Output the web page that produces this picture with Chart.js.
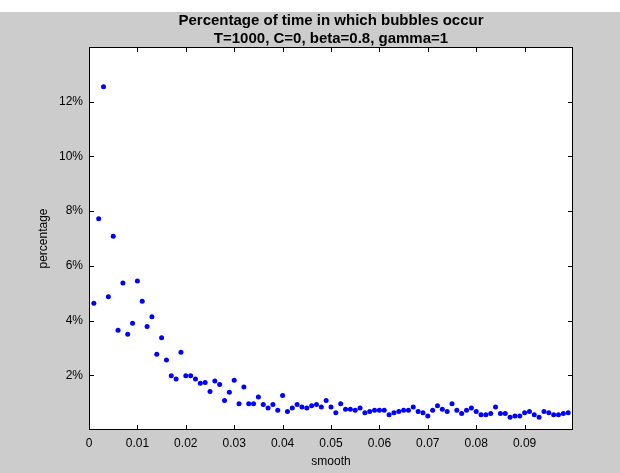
<!DOCTYPE html>
<html>
<head>
<meta charset="utf-8">
<script src="https://cdn.jsdelivr.net/npm/chart.js@4/dist/chart.umd.min.js"></script>
<style>
  html, body { margin: 0; padding: 0; background: #ffffff; }
  #wrap { width: 620px; height: 473px; position: relative; }
</style>
</head>
<body>
<div id="wrap"><canvas id="c" width="620" height="473"></canvas></div>
<script>
// ---- data ----
const titleLines = ["Percentage of time in which bubbles occur", "T=1000, C=0, beta=0.8, gamma=1"];
const xLabel = "smooth";
const yLabel = "percentage";

const smooth = [
  0.001, 0.002, 0.003, 0.004, 0.005, 0.006, 0.007, 0.008, 0.009, 0.010,
  0.011, 0.012, 0.013, 0.014, 0.015, 0.016, 0.017, 0.018, 0.019, 0.020,
  0.021, 0.022, 0.023, 0.024, 0.025, 0.026, 0.027, 0.028, 0.029, 0.030,
  0.031, 0.032, 0.033, 0.034, 0.035, 0.036, 0.037, 0.038, 0.039, 0.040,
  0.041, 0.042, 0.043, 0.044, 0.045, 0.046, 0.047, 0.048, 0.049, 0.050,
  0.051, 0.052, 0.053, 0.054, 0.055, 0.056, 0.057, 0.058, 0.059, 0.060,
  0.061, 0.062, 0.063, 0.064, 0.065, 0.066, 0.067, 0.068, 0.069, 0.070,
  0.071, 0.072, 0.073, 0.074, 0.075, 0.076, 0.077, 0.078, 0.079, 0.080,
  0.081, 0.082, 0.083, 0.084, 0.085, 0.086, 0.087, 0.088, 0.089, 0.090,
  0.091, 0.092, 0.093, 0.094, 0.095, 0.096, 0.097, 0.098, 0.099
];

// percentage of time (fraction)
const percentage = [
  0.0463, 0.0772, 0.1255, 0.0487, 0.0708, 0.0365, 0.0537, 0.0350, 0.0390, 0.0545,
  0.0471, 0.0378, 0.0414, 0.0277, 0.0337, 0.0256, 0.0198, 0.0186, 0.0284, 0.0198,
  0.0198, 0.0186, 0.0171, 0.0174, 0.0141, 0.0179, 0.0166, 0.0108, 0.0138, 0.0182,
  0.0096, 0.0157, 0.0096, 0.0096, 0.0121, 0.0093, 0.0080, 0.0093, 0.0072, 0.0126,
  0.0068, 0.0080, 0.0093, 0.0084, 0.0080, 0.0089, 0.0093, 0.0084, 0.0108, 0.0084,
  0.0063, 0.0096, 0.0076, 0.0076, 0.0072, 0.0080, 0.0063, 0.0068, 0.0072, 0.0072,
  0.0072, 0.0056, 0.0063, 0.0068, 0.0072, 0.0072, 0.0084, 0.0068, 0.0063, 0.0051,
  0.0072, 0.0089, 0.0076, 0.0068, 0.0096, 0.0072, 0.0060, 0.0072, 0.0080, 0.0068,
  0.0056, 0.0056, 0.0060, 0.0084, 0.0060, 0.0060, 0.0047, 0.0051, 0.0051, 0.0063,
  0.0068, 0.0056, 0.0047, 0.0068, 0.0063, 0.0056, 0.0056, 0.0060, 0.0063
];

const xTickLabels = ["0", "0.01", "0.02", "0.03", "0.04", "0.05", "0.06", "0.07", "0.08", "0.09"];
const yTickLabels = ["2%", "4%", "6%", "8%", "10%", "12%"];

// ---- styling ----
const FIG_BG = "#cccccc";
const FONT = "'Liberation Sans', Arial, Helvetica, sans-serif";

const points = smooth.map((x, i) => ({ x: x, y: percentage[i] }));

const matlabFrame = {
  id: "matlabFrame",
  afterLayout(chart) {
    // center the title over the plot box, like MATLAB does
    const tb = chart.titleBlock;
    if (tb) {
      tb.left = chart.chartArea.left;
      tb.right = chart.chartArea.right;
      tb.width = tb.right - tb.left;
    }
  },
  beforeDraw(chart) {
    const { ctx, chartArea: a, width, height } = chart;
    ctx.save();
    ctx.fillStyle = "#ffffff";
    ctx.fillRect(0, 0, width, height);
    ctx.fillStyle = FIG_BG;
    ctx.fillRect(0, 12, width, height - 12);
    ctx.fillStyle = "#ffffff";
    ctx.fillRect(a.left, a.top, a.right - a.left, a.bottom - a.top);
    ctx.restore();
  },
  afterDraw(chart) {
    const { ctx, chartArea: a } = chart;
    const xs = chart.scales.x, ys = chart.scales.y;
    const L = 5;
    ctx.save();
    ctx.strokeStyle = "#000000";
    ctx.lineWidth = 1;
    ctx.beginPath();
    xs.ticks.forEach((t) => {
      if (t.value <= xs.min || t.value >= xs.max) return;
      const px = Math.round(xs.getPixelForValue(t.value)) + 0.5;
      ctx.moveTo(px, a.bottom);
      ctx.lineTo(px, a.bottom - L);
      ctx.moveTo(px, a.top);
      ctx.lineTo(px, a.top + L);
    });
    ys.ticks.forEach((t) => {
      if (t.value <= ys.min + 1e-9 || t.value >= ys.max - 1e-9) return;
      const py = Math.round(ys.getPixelForValue(t.value)) + 0.5;
      ctx.moveTo(a.left, py);
      ctx.lineTo(a.left + L, py);
      ctx.moveTo(a.right, py);
      ctx.lineTo(a.right - L, py);
    });
    ctx.stroke();
    ctx.strokeRect(Math.round(a.left) + 0.5, Math.round(a.top) + 0.5,
                   Math.round(a.right - a.left) - 1, Math.round(a.bottom - a.top) - 1);
    ctx.restore();
  }
};

new Chart(document.getElementById("c"), {
  type: "scatter",
  data: {
    datasets: [{
      label: "percentage",
      data: points,
      backgroundColor: "#0000ff",
      borderColor: "#0000ff",
      borderWidth: 0,
      pointRadius: 2.5,
      pointHoverRadius: 2.5
    }]
  },
  plugins: [matlabFrame],
  options: {
    responsive: false,
    animation: false,
    devicePixelRatio: 1,
    layout: { padding: { left: 0, right: 47, top: 0, bottom: 0 } },
    plugins: {
      legend: { display: false },
      tooltip: { enabled: false },
      title: {
        display: true,
        text: titleLines,
        color: "#000000",
        font: { family: FONT, size: 15, weight: "bold", lineHeight: 1.15 },
        padding: { top: 12.5, bottom: 0 }
      }
    },
    scales: {
      x: {
        type: "linear",
        min: 0,
        max: 0.1,
        afterFit(s) { s.height = 43; },
        afterBuildTicks(s) {
          s.ticks = [];
          for (let i = 0; i <= xTickLabels.length; i++) s.ticks.push({ value: i * 0.01 });
        },
        grid: { display: false, drawTicks: false },
        border: { display: false },
        ticks: {
          color: "#000000",
          font: { family: FONT, size: 12 },
          padding: 6,
          maxRotation: 0,
          autoSkip: false,
          callback: (v, i) => (i < xTickLabels.length ? xTickLabels[i] : "")
        },
        title: {
          display: true,
          text: xLabel,
          color: "#000000",
          font: { family: FONT, size: 12, lineHeight: 1.2 },
          padding: { top: 0, bottom: 4 }
        }
      },
      y: {
        type: "linear",
        min: 0,
        max: 0.14,
        afterFit(s) { s.width = 89; },
        afterBuildTicks(s) {
          s.ticks = [];
          for (let i = 0; i <= yTickLabels.length + 1; i++) s.ticks.push({ value: i * 0.02 });
        },
        grid: { display: false, drawTicks: false },
        border: { display: false },
        ticks: {
          color: "#000000",
          font: { family: FONT, size: 12 },
          padding: 6,
          autoSkip: false,
          callback: (v, i) => (i >= 1 && i <= yTickLabels.length ? yTickLabels[i - 1] : "")
        },
        title: {
          display: true,
          text: yLabel,
          color: "#000000",
          font: { family: FONT, size: 12, lineHeight: 1.2 },
          padding: { top: 36, bottom: 0 }
        }
      }
    }
  }
});
</script>
</body>
</html>
